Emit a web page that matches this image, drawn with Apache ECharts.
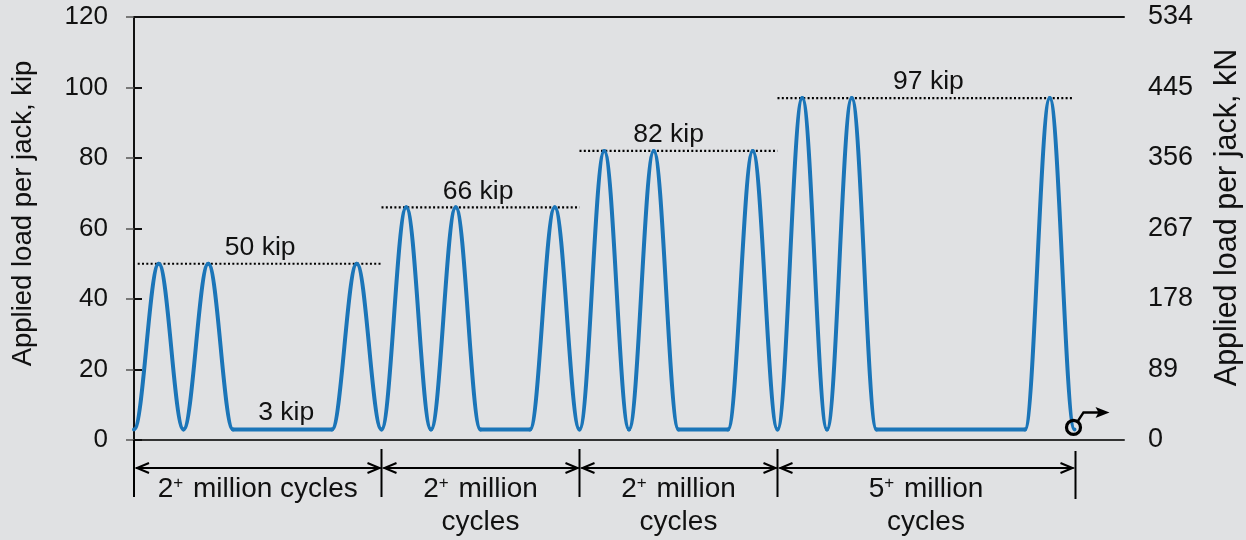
<!DOCTYPE html>
<html>
<head>
<meta charset="utf-8">
<script src="https://cdn.jsdelivr.net/npm/echarts@6/dist/echarts.min.js"></script>
<style>
  html, body { margin: 0; padding: 0; background: #e0e1e3; }
  #chart { width: 1246px; height: 540px; }
</style>
</head>
<body>
<div id="chart"></div>
<script>
/* load history: x is counted in half cycles of the plot, y is load per jack (kip) */
const cycleX = [0, 1, 2, 3, 4, 8, 9, 10, 11, 12, 13, 14, 16, 17, 18, 19, 20, 21, 22, 24, 25, 26, 27, 28, 29, 30, 36, 37, 38]
const loadKip = [3, 50, 3, 50, 3, 3, 50, 3, 66, 3, 66, 3, 3, 66, 3, 82, 3, 82, 3, 3, 82, 3, 97, 3, 97, 3, 3, 97, 3]

/* peak levels per stage */
const levelKip = [50, 66, 82, 97]
const levelFrom = [0.15, 10, 18, 26]
const levelTo = [10, 18, 26, 37.9]
const levelLabelX = [5.1, 13.9, 21.6, 32.1]

/* minimum load */
const minKip = 3
const minLabelX = 6.15

/* stage boundaries and cycle counts */
const stageEdges = [0, 10, 18, 26, 38]
const stageMillions = ['2', '2', '2', '5']
const stageWrap = [false, true, true, true]

/* axes */
const kipTicks = [0, 20, 40, 60, 80, 100, 120]
const kNTicks = [0, 89, 178, 267, 356, 445, 534]

const FONT = '"Liberation Sans", Arial, Helvetica, sans-serif'
const INK = '#111'
const BLUE = '#1b75b8'

const chart = echarts.init(document.getElementById('chart'))

const lineData = cycleX.map((x, i) => [x, loadKip[i]])
// each piece of the load history goes from one point to the next
const segData = cycleX.slice(1).map((x, i) => [cycleX[i], loadKip[i], x, loadKip[i + 1]])
const levelData = levelKip.map((v, i) => [levelFrom[i], levelTo[i], v, levelLabelX[i]])
const stageData = stageMillions.map((m, i) => [stageEdges[i], stageEdges[i + 1], m, stageWrap[i] ? 1 : 0, i])

function txt(x, y, text, size, rich) {
  return {
    type: 'text',
    style: {
      x: x, y: y, text: text,
      font: size + 'px ' + FONT, fontSize: size, fontFamily: FONT,
      fill: INK,
      align: 'center', verticalAlign: 'middle',
      textAlign: 'center', textVerticalAlign: 'middle',
      rich: rich
    }
  }
}

const supRich = {
  n: { fontSize: 28, fontFamily: FONT, fill: INK, color: INK, lineHeight: 30, verticalAlign: 'middle' },
  s: { fontSize: 17, fontFamily: FONT, fill: INK, color: INK, lineHeight: 30, verticalAlign: 'top', padding: [1, 2, 0, 0] }
}

const option = {
  backgroundColor: '#e0e1e3',
  animation: false,
  grid: { left: 134, right: 122, top: 17, bottom: 100, outerBoundsMode: 'none', containLabel: false },
  xAxis: [
    {
      type: 'value', min: 0, max: 40, position: 'bottom',
      axisLine: { show: true, lineStyle: { color: '#333', width: 2 } },
      axisTick: { show: false }, axisLabel: { show: false }, splitLine: { show: false }
    },
    {
      type: 'value', min: 0, max: 40, position: 'top',
      axisLine: { show: true, onZero: false, lineStyle: { color: '#111', width: 2 } },
      axisTick: { show: false }, axisLabel: { show: false }, splitLine: { show: false }
    }
  ],
  yAxis: [
    {
      type: 'value', min: 0, max: 120, interval: 20, position: 'left',
      name: 'Applied load per jack, kip',
      nameLocation: 'middle', nameGap: 97, nameRotate: 90,
      nameTextStyle: { fontSize: 27.5, fontFamily: FONT, color: INK, padding: [0, 0, 0, 30] },
      axisLine: { show: true, lineStyle: { color: '#3a3a3a', width: 2 } },
      axisTick: { show: true, inside: false, length: 8, lineStyle: { color: '#555', width: 1.5 } },
      axisLabel: { margin: 26, fontSize: 26, fontFamily: FONT, color: INK,
        formatter: v => kipTicks.includes(v) ? String(v) : '' },
      splitLine: { show: false }
    },
    {
      type: 'value', min: 0, max: 534, interval: 89, position: 'right',
      name: 'Applied load per jack, kN',
      nameLocation: 'middle', nameGap: 88, nameRotate: 90,
      nameTextStyle: { fontSize: 30.5, fontFamily: FONT, color: INK, padding: [0, 0, 0, 22] },
      axisLine: { show: true, lineStyle: { color: '#111', width: 2 } },
      axisTick: { show: true, inside: false, length: 8, lineStyle: { color: '#111', width: 2 } },
      axisLabel: { margin: 24, fontSize: 27, fontFamily: FONT, color: INK,
        formatter: v => kNTicks.includes(v) ? String(v) : '' },
      splitLine: { show: false }
    }
  ],
  series: [
    {
      /* dotted peak levels and their labels */
      type: 'custom',
      xAxisIndex: 0, yAxisIndex: 0,
      clip: false, z: 2,
      data: levelData,
      renderItem: (params, api) => {
        const a = api.coord([api.value(0), api.value(2)])
        const b = api.coord([api.value(1), api.value(2)])
        const c = api.coord([api.value(3), api.value(2)])
        return {
          type: 'group',
          children: [
            {
              type: 'line',
              shape: { x1: a[0], y1: a[1], x2: b[0], y2: b[1] },
              style: { stroke: '#000', lineWidth: 2.2, lineDash: [2, 2.3] }
            },
            txt(c[0], c[1] - 16, api.value(2) + ' kip', 26.5)
          ]
        }
      }
    },
    {
      type: 'custom',
      xAxisIndex: 0, yAxisIndex: 0,
      clip: false, z: 2,
      data: [[minLabelX, minKip]],
      renderItem: (params, api) => {
        const p = api.coord([api.value(0), api.value(1)])
        return txt(p[0], p[1] - 17, api.value(1) + ' kip', 26.5)
      }
    },
    {
      /* load history: each piece eases in and out like a sine half wave */
      type: 'custom',
      xAxisIndex: 0, yAxisIndex: 0,
      z: 3,
      data: segData,
      renderItem: (params, api) => {
        const p0 = api.coord([api.value(0), api.value(1)])
        const p1 = api.coord([api.value(2), api.value(3)])
        const h = (p1[0] - p0[0]) * 0.37
        return {
          type: 'bezierCurve',
          shape: {
            x1: p0[0], y1: p0[1], x2: p1[0], y2: p1[1],
            cpx1: p0[0] + h, cpy1: p0[1], cpx2: p1[0] - h, cpy2: p1[1]
          },
          style: { fill: 'none', stroke: BLUE, lineWidth: 4, lineCap: 'round' }
        }
      }
    },
    {
      /* end marker: circle with arrow */
      type: 'custom',
      xAxisIndex: 0, yAxisIndex: 0,
      clip: false, z: 4,
      data: [lineData[lineData.length - 1]],
      renderItem: (params, api) => {
        const p = api.coord([api.value(0), api.value(1)])
        const x = p[0] - 1, y = p[1] - 2
        return {
          type: 'group',
          children: [
            { type: 'circle', shape: { cx: x, cy: y, r: 7 },
              style: { fill: 'none', stroke: '#000', lineWidth: 3.2 } },
            { type: 'polyline', shape: { points: [[x + 4.5, y - 6.5], [x + 10, y - 15], [x + 26, y - 15]] },
              style: { fill: 'none', stroke: '#000', lineWidth: 2.5 } },
            { type: 'polygon', shape: { points: [[x + 36, y - 15], [x + 22, y - 20.5], [x + 25, y - 15], [x + 22, y - 9.5]] },
              style: { fill: '#000' } }
          ]
        }
      }
    },
    {
      /* stage dimensions below the axis */
      type: 'custom',
      xAxisIndex: 0, yAxisIndex: 0,
      clip: false, z: 2,
      data: stageData,
      renderItem: (params, api) => {
        const a = api.coord([api.value(0), 0])
        const b = api.coord([api.value(1), 0])
        const base = a[1]
        const ya = base + 28
        const idx = api.value(4)
        const children = []
        const top0 = idx === 0 ? base : base + 9
        children.push({ type: 'line', shape: { x1: a[0], y1: top0, x2: a[0], y2: base + 57 },
          style: { stroke: '#000', lineWidth: 2 } })
        if (idx === stageData.length - 1) {
          children.push({ type: 'line', shape: { x1: b[0] + 1, y1: base + 11, x2: b[0] + 1, y2: base + 59 },
            style: { stroke: '#000', lineWidth: 2 } })
        }
        const l = a[0] + 2, r = b[0] - 1
        children.push({ type: 'line', shape: { x1: l, y1: ya, x2: r, y2: ya },
          style: { stroke: '#000', lineWidth: 2 } })
        children.push({ type: 'polyline', shape: { points: [[l + 13, ya - 5], [l + 1, ya], [l + 13, ya + 5]] },
          style: { fill: 'none', stroke: '#000', lineWidth: 2 } })
        children.push({ type: 'polyline', shape: { points: [[r - 13, ya - 5], [r - 1, ya], [r - 13, ya + 5]] },
          style: { fill: 'none', stroke: '#000', lineWidth: 2 } })
        const cx = (a[0] + b[0]) / 2
        const m = api.value(2)
        if (api.value(3)) {
          children.push(txt(cx, base + 49, '{n|' + m + '}{s|+}{n| million}', 28, supRich))
          children.push(txt(cx, base + 82, 'cycles', 28))
        } else {
          children.push(txt(cx, base + 49, '{n|' + m + '}{s|+}{n| million cycles}', 28, supRich))
        }
        return { type: 'group', children: children }
      }
    }
  ]
}

chart.setOption(option)
</script>
</body>
</html>
